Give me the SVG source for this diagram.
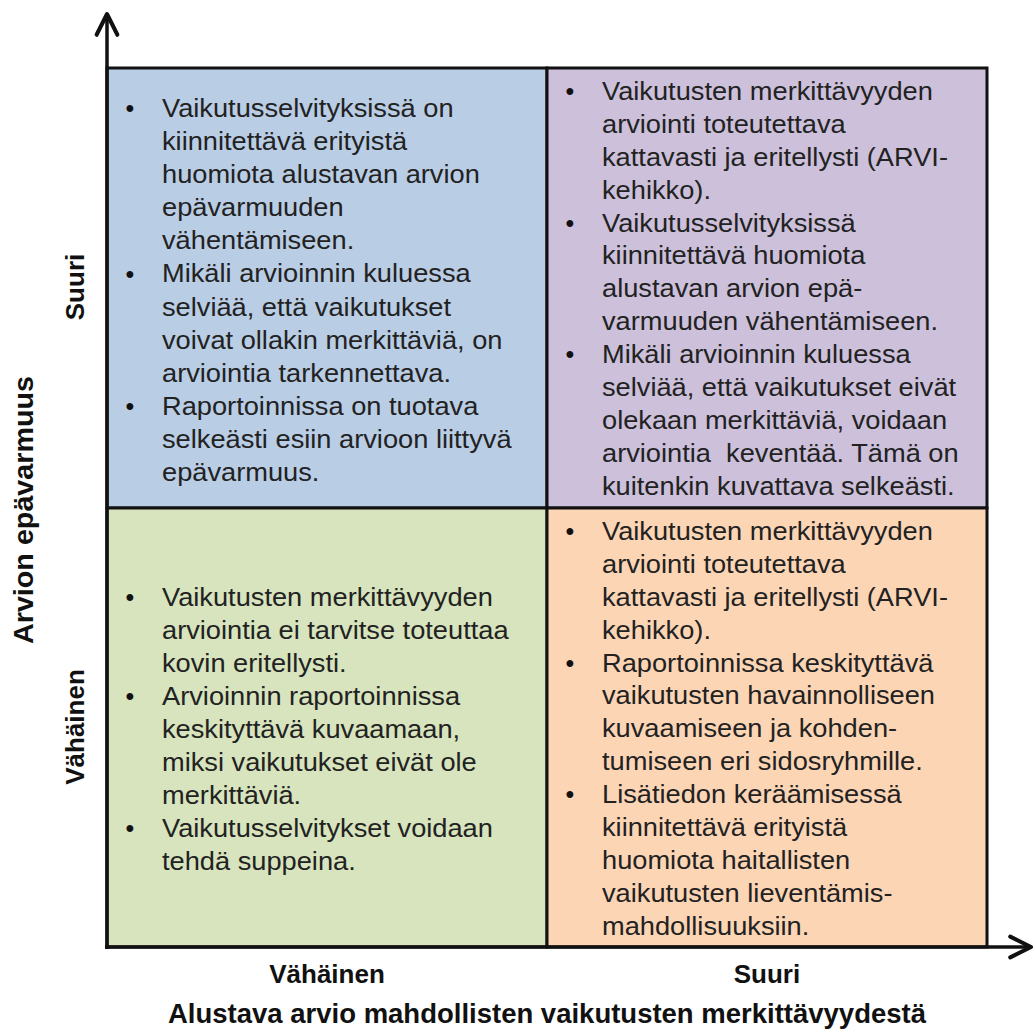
<svg xmlns="http://www.w3.org/2000/svg" width="1035" height="1030" viewBox="0 0 1035 1030">
  <style>
    .cell { stroke: #111; stroke-width: 3; }
    .body { font-family: "Liberation Sans", Arial, sans-serif; font-size: 25px; fill: #222; }
    .dot { font-family: "Liberation Sans", Arial, sans-serif; font-size: 25px; fill: #111; text-anchor: middle; }
    .lbl { font-family: "Liberation Sans", Arial, sans-serif; font-weight: bold; fill: #111; text-anchor: middle; }
    .axis { stroke: #111; stroke-width: 3.5; fill: none; }
  </style>
  <defs>
    <marker id="open-arrow" markerUnits="userSpaceOnUse" markerWidth="30" markerHeight="30" viewBox="-22 -12 26 24" refX="0" refY="0" orient="auto" overflow="visible">
      <path d="M-18,-9 L0,0 L-18,9" fill="none" stroke="#111" stroke-width="3.5" stroke-linejoin="round" stroke-linecap="round"/>
    </marker>
  </defs>
  <rect width="1035" height="1030" fill="#ffffff"/>

  <!-- top-left: large uncertainty, small significance -->
  <g id="q-top-left">
    <rect class="cell" x="107" y="68" width="440" height="440" fill="#B9CDE5"/>
    <text class="dot" x="130" y="117">•</text>
    <text class="dot" x="130" y="282.5">•</text>
    <text class="dot" x="130" y="414.9">•</text>
    <text class="body" transform="translate(162 117) scale(1.09 1)">
      <tspan x="0" y="0">Vaikutusselvityksissä on</tspan>
      <tspan x="0" y="33.1">kiinnitettävä erityistä</tspan>
      <tspan x="0" y="66.2">huomiota alustavan arvion</tspan>
      <tspan x="0" y="99.3">epävarmuuden</tspan>
      <tspan x="0" y="132.4">vähentämiseen.</tspan>
      <tspan x="0" y="165.5">Mikäli arvioinnin kuluessa</tspan>
      <tspan x="0" y="198.6">selviää, että vaikutukset</tspan>
      <tspan x="0" y="231.7">voivat ollakin merkittäviä, on</tspan>
      <tspan x="0" y="264.8">arviointia tarkennettava.</tspan>
      <tspan x="0" y="297.9">Raportoinnissa on tuotava</tspan>
      <tspan x="0" y="331">selkeästi esiin arvioon liittyvä</tspan>
      <tspan x="0" y="364.1">epävarmuus.</tspan>
    </text>
  </g>

  <!-- top-right: large uncertainty, large significance -->
  <g id="q-top-right">
    <rect class="cell" x="547" y="68" width="440" height="440" fill="#CCC0DA"/>
    <text class="dot" x="570" y="100">•</text>
    <text class="dot" x="570" y="231.6">•</text>
    <text class="dot" x="570" y="363.2">•</text>
    <text class="body" transform="translate(602 100) scale(1.09 1)">
      <tspan x="0" y="0">Vaikutusten merkittävyyden</tspan>
      <tspan x="0" y="32.9">arviointi toteutettava</tspan>
      <tspan x="0" y="65.8">kattavasti ja eritellysti (ARVI-</tspan>
      <tspan x="0" y="98.7">kehikko).</tspan>
      <tspan x="0" y="131.6">Vaikutusselvityksissä</tspan>
      <tspan x="0" y="164.5">kiinnitettävä huomiota</tspan>
      <tspan x="0" y="197.4">alustavan arvion epä-</tspan>
      <tspan x="0" y="230.3">varmuuden vähentämiseen.</tspan>
      <tspan x="0" y="263.2">Mikäli arvioinnin kuluessa</tspan>
      <tspan x="0" y="296.1">selviää, että vaikutukset eivät</tspan>
      <tspan x="0" y="329">olekaan merkittäviä, voidaan</tspan>
      <tspan x="0" y="361.9" style="white-space:pre">arviointia  keventää. Tämä on</tspan>
      <tspan x="0" y="394.8">kuitenkin kuvattava selkeästi.</tspan>
    </text>
  </g>

  <!-- bottom-left: small uncertainty, small significance -->
  <g id="q-bottom-left">
    <rect class="cell" x="107" y="508" width="440" height="439" fill="#D7E4BD"/>
    <text class="dot" x="130" y="606">•</text>
    <text class="dot" x="130" y="705">•</text>
    <text class="dot" x="130" y="837">•</text>
    <text class="body" transform="translate(162 606) scale(1.09 1)">
      <tspan x="0" y="0">Vaikutusten merkittävyyden</tspan>
      <tspan x="0" y="33">arviointia ei tarvitse toteuttaa</tspan>
      <tspan x="0" y="66">kovin eritellysti.</tspan>
      <tspan x="0" y="99">Arvioinnin raportoinnissa</tspan>
      <tspan x="0" y="132">keskityttävä kuvaamaan,</tspan>
      <tspan x="0" y="165">miksi vaikutukset eivät ole</tspan>
      <tspan x="0" y="198">merkittäviä.</tspan>
      <tspan x="0" y="231">Vaikutusselvitykset voidaan</tspan>
      <tspan x="0" y="264">tehdä suppeina.</tspan>
    </text>
  </g>

  <!-- bottom-right: small uncertainty, large significance -->
  <g id="q-bottom-right">
    <rect class="cell" x="547" y="508" width="440" height="439" fill="#FCD5B5"/>
    <text class="dot" x="570" y="540">•</text>
    <text class="dot" x="570" y="671.6">•</text>
    <text class="dot" x="570" y="803.2">•</text>
    <text class="body" transform="translate(602 540) scale(1.09 1)">
      <tspan x="0" y="0">Vaikutusten merkittävyyden</tspan>
      <tspan x="0" y="32.9">arviointi toteutettava</tspan>
      <tspan x="0" y="65.8">kattavasti ja eritellysti (ARVI-</tspan>
      <tspan x="0" y="98.7">kehikko).</tspan>
      <tspan x="0" y="131.6">Raportoinnissa keskityttävä</tspan>
      <tspan x="0" y="164.5">vaikutusten havainnolliseen</tspan>
      <tspan x="0" y="197.4">kuvaamiseen ja kohden-</tspan>
      <tspan x="0" y="230.3">tumiseen eri sidosryhmille.</tspan>
      <tspan x="0" y="263.2">Lisätiedon keräämisessä</tspan>
      <tspan x="0" y="296.1">kiinnitettävä erityistä</tspan>
      <tspan x="0" y="329">huomiota haitallisten</tspan>
      <tspan x="0" y="361.9">vaikutusten lieventämis-</tspan>
      <tspan x="0" y="394.8">mahdollisuuksiin.</tspan>
    </text>
  </g>

  <!-- axes -->
  <g id="axes">
    <line class="axis" x1="107" y1="949" x2="107" y2="14" marker-end="url(#open-arrow)"/>
    <line class="axis" x1="105" y1="947" x2="1031" y2="947" marker-end="url(#open-arrow)"/>
  </g>

  <!-- axis labels -->
  <g id="axis-labels">
    <text class="lbl" font-size="26" transform="translate(84 287) rotate(-90)">Suuri</text>
    <text class="lbl" font-size="26" transform="translate(84 727) rotate(-90)">Vähäinen</text>
    <text class="lbl" font-size="28" transform="translate(33 510) rotate(-90)" textLength="268" lengthAdjust="spacingAndGlyphs">Arvion epävarmuus</text>
    <text class="lbl" font-size="26" x="327" y="983">Vähäinen</text>
    <text class="lbl" font-size="26" x="767" y="983">Suuri</text>
    <text class="lbl" font-size="27" x="547" y="1023" textLength="758" lengthAdjust="spacingAndGlyphs">Alustava arvio mahdollisten vaikutusten merkittävyydestä</text>
  </g>
</svg>
